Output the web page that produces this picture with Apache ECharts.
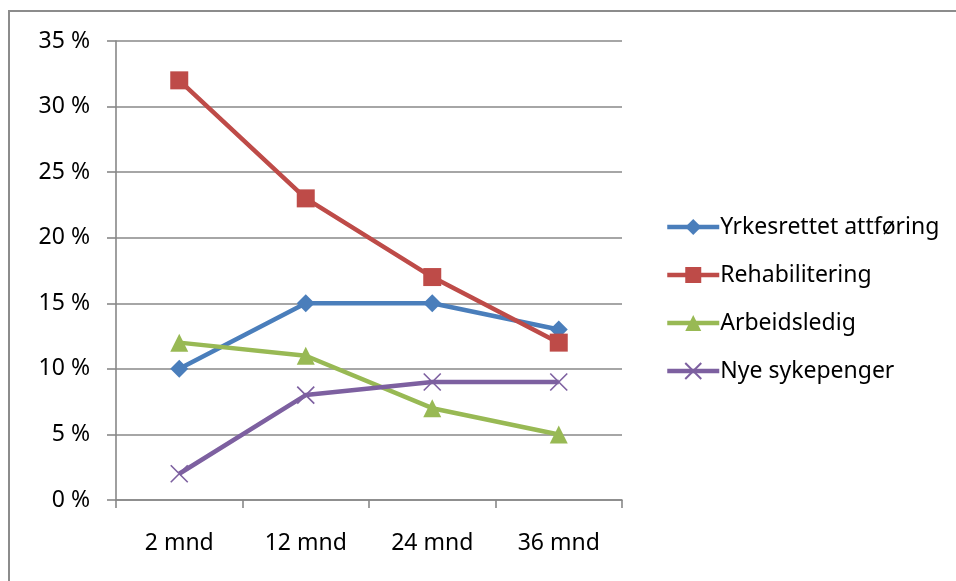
<!DOCTYPE html>
<html>
<head>
<meta charset="utf-8">
<script src="https://cdn.jsdelivr.net/npm/echarts@6/dist/echarts.min.js"></script>
<style>html,body{margin:0;padding:0;background:#fff}#c{width:956px;height:581px}</style>
</head>
<body>
<div id="c"></div>
<script>
const categories = ['2 mnd', '12 mnd', '24 mnd', '36 mnd'];
const seriesNames = ['Yrkesrettet attføring', 'Rehabilitering', 'Arbeidsledig', 'Nye sykepenger'];
const yrkesrettet = [10, 15, 15, 13];
const rehabilitering = [32, 23, 17, 12];
const arbeidsledig = [12, 11, 7, 5];
const nyeSykepenger = [2, 8, 9, 9];
const colors = ['#4A7EBB', '#BE4B48', '#98B954', '#7D60A0'];

const font = 'Noto Sans';
const chart = echarts.init(document.getElementById('c'), null, {renderer: 'canvas'});
const gridColor = '#888888';
function mk(name, data, color, symbol, size, extra) {
  return Object.assign({
    name: name, type: 'line', data: data, symbol: symbol, symbolSize: size,
    lineStyle: {color: color, width: 4.5},
    itemStyle: {color: color},
    animation: false
  }, extra || {});
}
chart.setOption({
  animation: false,
  color: colors,
  graphic: [{
    type: 'rect', shape: {x: 9, y: 11, width: 1000, height: 1000},
    style: {fill: 'none', stroke: '#8c8c8c', lineWidth: 2}, silent: true
  }],
  grid: {left: 116, right: 334, top: 41, bottom: 81},
  legend: {
    orient: 'vertical', left: 660, top: 210,
    itemWidth: 52, itemHeight: 20, itemGap: 24,
    lineStyle: {width: 4.5},
    textStyle: {fontFamily: font, fontSize: 23, lineHeight: 24, color: '#000', padding: [0, 0, 0, -4]},
    data: seriesNames
  },
  xAxis: {
    type: 'category', data: categories, boundaryGap: true,
    axisLine: {lineStyle: {color: gridColor, width: 1.6}},
    axisTick: {show: true, length: 8, lineStyle: {color: gridColor, width: 1.6}},
    axisLabel: {fontFamily: font, fontSize: 23, color: '#000', margin: 32}
  },
  yAxis: {
    type: 'value', min: 0, max: 35, interval: 5,
    axisLine: {show: true, lineStyle: {color: gridColor, width: 1.6}},
    axisTick: {show: true, length: 9, lineStyle: {color: gridColor, width: 1.6}},
    splitLine: {lineStyle: {color: gridColor, width: 1.6}},
    axisLabel: {fontFamily: font, fontSize: 23, color: '#000', margin: 26, formatter: '{value} %'}
  },
  series: [
    mk(seriesNames[0], yrkesrettet, colors[0], 'diamond', 18),
    mk(seriesNames[1], rehabilitering, colors[1], 'rect', 18),
    mk(seriesNames[2], arbeidsledig, colors[2], 'triangle', 18),
    mk(seriesNames[3], nyeSykepenger, colors[3], 'path://M0,0L10,10M10,0L0,10', 17, {
      itemStyle: {color: 'none', borderColor: colors[3], borderWidth: 1.6}
    })
  ]
});
</script>
</body>
</html>
